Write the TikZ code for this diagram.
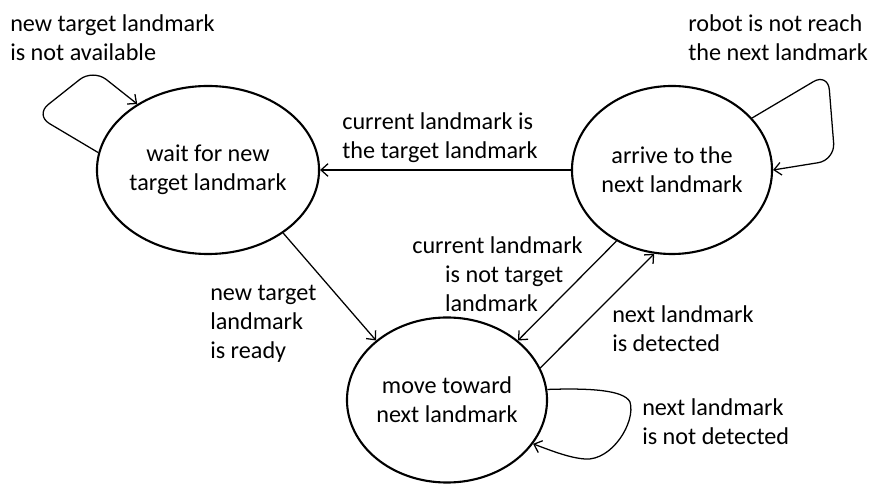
\documentclass[tikz,border=0pt]{standalone}
\usepackage{fontspec}
\setmainfont{Carlito}
\usetikzlibrary{shapes.geometric, arrows.meta}

\begin{document}
\begin{tikzpicture}[
  x=0.025cm, y=0.025cm,
  every node/.style={font=\fontsize{17.2}{20.6}\selectfont},
  state/.style={ellipse, draw=black, line width=1.5pt, minimum width=5cm,
                minimum height=4.2cm, align=center, inner sep=0pt},
  cond/.style={inner sep=0pt, align=left},
  arrow/.style={-{Straight Barb[length=5pt, width=9pt]}, line width=0.9pt},
  selfloop/.style={arrow, rounded corners=12pt}
]
  \useasboundingbox (0,0) rectangle (883,-484);

  % States
  \node[state] (wait) at (208,-170) {wait for new\\target landmark};
  \node[state] (arrive) at (672,-170) {arrive to the\\next landmark};
  \node[state, minimum height=4.125cm] (move) at (447,-400)
    {move toward\\next landmark};

  % Transition conditions
  \node[cond, anchor=west] (nowait) at (10,-38)
    {new target landmark\\is not available};
  \node[cond, anchor=west] (noreach) at (688,-38)
    {robot is not reach\\the next landmark};
  \node[cond, anchor=west] (istarget) at (342,-138)
    {current landmark is\\the target landmark};
  \node[cond, anchor=west] (ready) at (210,-324)
    {new target\\landmark\\is ready};
  \node[cond, anchor=west] (nottarget) at (412,-274)
    {current landmark\\\hspace*{0.82cm}is not target\\\hspace*{0.82cm}landmark};
  \node[cond, anchor=west] (detected) at (612,-329)
    {next landmark\\is detected};
  \node[cond, anchor=west] (notdetected) at (642,-422)
    {next landmark\\is not detected};

  % Transitions
  \draw[arrow] (arrive) -- (wait);
  \draw[arrow] (wait.-40) -- (move.140);
  \draw[arrow] (arrive.-128) -- (move.40);
  \draw[arrow] (move.19) -- (arrive.-102);

  % Self loops
  \draw[selfloop] (wait.171) -- (35,-115) -- (93,-69) -- (wait.137);
  \draw[selfloop] (arrive.33) -- (828,-73) -- (835,-160) -- (arrive.0);
  \draw[arrow] (move.6) .. controls (590,-388) and (624,-390) .. (630,-402)
    .. controls (636,-422) and (612,-461) .. (585,-459)
    .. controls (570,-458) and (552,-451) .. (move.-27);
\end{tikzpicture}
\end{document}
